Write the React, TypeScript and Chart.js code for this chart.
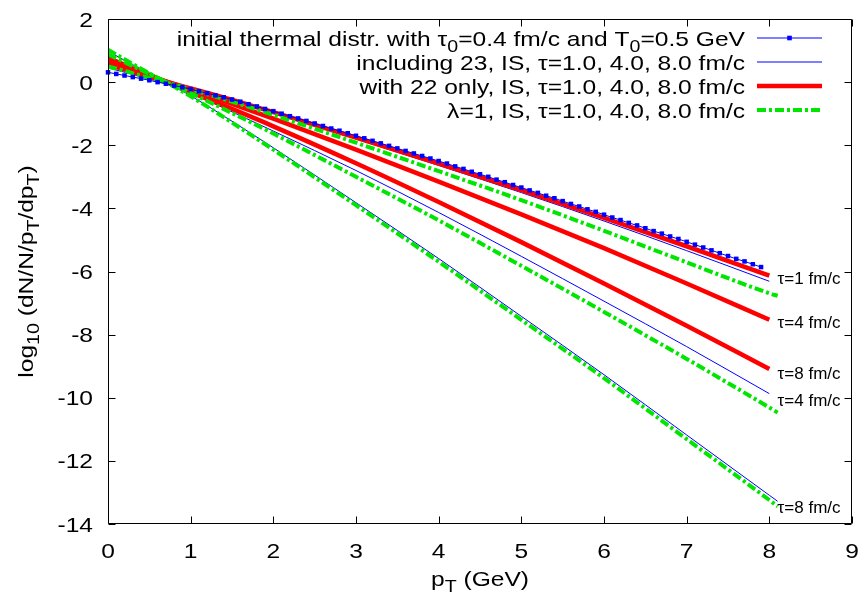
import React, { useEffect, useRef } from "react";
import { Chart, registerables } from "chart.js";
Chart.register(...registerables);

// ---------- data ----------
const PT_GRID = [0, 0.25, 0.5, 0.75, 1, 1.5, 2, 3, 4, 5, 6, 7, 8];
const PT_GRID_EXT = [0, 0.25, 0.5, 0.75, 1, 1.5, 2, 3, 4, 5, 6, 7, 8, 8.1];

const PT_THERMAL = [
  0.0, 0.1, 0.2, 0.3, 0.4, 0.5, 0.6, 0.7, 0.8, 0.9,
  1.0, 1.1, 1.2, 1.3, 1.4, 1.5, 1.6, 1.7, 1.8, 1.9,
  2.0, 2.1, 2.2, 2.3, 2.4, 2.5, 2.6, 2.7, 2.8, 2.9,
  3.0, 3.1, 3.2, 3.3, 3.4, 3.5, 3.6, 3.7, 3.8, 3.9,
  4.0, 4.1, 4.2, 4.3, 4.4, 4.5, 4.6, 4.7, 4.8, 4.9,
  5.0, 5.1, 5.2, 5.3, 5.4, 5.5, 5.6, 5.7, 5.8, 5.9,
  6.0, 6.1, 6.2, 6.3, 6.4, 6.5, 6.6, 6.7, 6.8, 6.9,
  7.0, 7.1, 7.2, 7.3, 7.4, 7.5, 7.6, 7.7, 7.8, 7.9,
];
const THERMAL = [
  0.31, 0.26, 0.21, 0.16, 0.11, 0.06, 0.0, -0.05, -0.11, -0.16,
  -0.22, -0.29, -0.35, -0.42, -0.48, -0.55, -0.62, -0.70, -0.77, -0.85,
  -0.92, -1.0, -1.08, -1.15, -1.23, -1.31, -1.39, -1.47, -1.54, -1.62,
  -1.70, -1.78, -1.86, -1.94, -2.02, -2.10, -2.18, -2.26, -2.34, -2.42,
  -2.50, -2.58, -2.67, -2.75, -2.84, -2.92, -3.0, -3.09, -3.17, -3.26,
  -3.34, -3.43, -3.51, -3.60, -3.68, -3.77, -3.86, -3.94, -4.03, -4.11,
  -4.20, -4.29, -4.37, -4.46, -4.54, -4.63, -4.72, -4.80, -4.89, -4.97,
  -5.06, -5.15, -5.24, -5.33, -5.42, -5.51, -5.60, -5.68, -5.77, -5.86,
];

const INC23_TAU1 = [0.45, 0.28, 0.1, -0.05, -0.22, -0.59, -0.98, -1.8, -2.64, -3.5, -4.4, -5.34, -6.31];
const INC23_TAU4 = [0.82, 0.53, 0.24, -0.05, -0.34, -0.94, -1.55, -2.8, -4.13, -5.52, -6.94, -8.38, -9.87];
const INC23_TAU8 = [0.98, 0.62, 0.27, -0.07, -0.43, -1.24, -2.08, -3.82, -5.59, -7.42, -9.27, -11.18, -13.09, -13.28];

const ONLY22_TAU1 = [0.55, 0.36, 0.17, -0.02, -0.2, -0.56, -0.95, -1.76, -2.58, -3.42, -4.3, -5.2, -6.13];
const ONLY22_TAU4 = [0.67, 0.44, 0.21, -0.02, -0.24, -0.69, -1.16, -2.14, -3.15, -4.19, -5.26, -6.38, -7.53];
const ONLY22_TAU8 = [0.76, 0.5, 0.23, -0.05, -0.32, -0.85, -1.4, -2.57, -3.8, -5.07, -6.38, -7.72, -9.09];

const LAMBDA1_TAU1 = [0.5, 0.32, 0.13, -0.04, -0.23, -0.62, -1.04, -1.92, -2.82, -3.74, -4.71, -5.71, -6.69, -6.77];
const LAMBDA1_TAU4 = [0.88, 0.57, 0.26, -0.05, -0.35, -0.98, -1.63, -3.0, -4.38, -5.82, -7.28, -8.77, -10.31, -10.47];
const LAMBDA1_TAU8 = [1.03, 0.65, 0.28, -0.07, -0.45, -1.28, -2.14, -3.9, -5.69, -7.53, -9.38, -11.31, -13.24, -13.44];

const LEGEND_LABELS = [
  "initial thermal distr. with τ_0=0.4 fm/c and T_0=0.5 GeV",
  "including 23, IS, τ=1.0, 4.0, 8.0 fm/c",
  "with 22 only, IS, τ=1.0, 4.0, 8.0 fm/c",
  "λ=1, IS, τ=1.0, 4.0, 8.0 fm/c",
];

const END_LABELS = ["τ=1 fm/c", "τ=4 fm/c", "τ=8 fm/c", "τ=4 fm/c", "τ=8 fm/c"];
const END_LABEL_Y = [-6.2, -7.59, -9.2, -10.06, -13.47];
const END_LABEL_X = 8.1;

const X_TITLE = "p_T (GeV)";
const Y_TITLE = "log_{10} (dN/N/p_T/dp_T)";

// ---------- styles ----------
const BLUE = "#0000ff";
const RED = "#ff0000";
const GREEN = "#00e600";
const GREEN_DASH = [9, 3, 3, 3];
const FONT = '"Liberation Sans", Arial, Helvetica, sans-serif';
const BASE = 21;
const SX = 1.17;

type Seg = { t: string; sub: boolean };
function parseRich(s: string): Seg[] {
  const segs: Seg[] = [];
  let buf = "";
  let i = 0;
  while (i < s.length) {
    if (s[i] === "_") {
      if (buf) segs.push({ t: buf, sub: false });
      buf = "";
      if (s[i + 1] === "{") {
        const j = s.indexOf("}", i + 2);
        segs.push({ t: s.slice(i + 2, j), sub: true });
        i = j + 1;
      } else {
        segs.push({ t: s[i + 1], sub: true });
        i += 2;
      }
    } else {
      buf += s[i];
      i++;
    }
  }
  if (buf) segs.push({ t: buf, sub: false });
  return segs;
}

function drawRich(
  ctx: CanvasRenderingContext2D,
  s: string,
  x: number,
  y: number,
  align: "left" | "right" | "center",
  size: number,
  sx: number,
  rot = 0
) {
  const segs = parseRich(s);
  const subSize = size * 0.8;
  const widths = segs.map((sg) => {
    ctx.font = `${sg.sub ? subSize : size}px ${FONT}`;
    return ctx.measureText(sg.t).width;
  });
  const w = widths.reduce((a, b) => a + b, 0);
  ctx.save();
  ctx.translate(x, y);
  if (rot) ctx.rotate(rot);
  ctx.scale(sx, 1);
  let cx = align === "left" ? 0 : align === "right" ? -w : -w / 2;
  ctx.textBaseline = "alphabetic";
  ctx.textAlign = "left";
  ctx.fillStyle = "#000";
  const base = size * 0.36;
  segs.forEach((sg, k) => {
    ctx.font = `${sg.sub ? subSize : size}px ${FONT}`;
    ctx.fillText(sg.t, cx, base + (sg.sub ? size * 0.3 : 0));
    cx += widths[k];
  });
  ctx.restore();
}

const overlay = {
  id: "overlay",
  afterDatasetsDraw(chart: any) {
    const { ctx, chartArea: a, scales } = chart;
    const xs = scales.x;
    const ys = scales.y;
    ctx.save();
    ctx.strokeStyle = "#000";
    ctx.lineWidth = 1;
    const L = Math.round(a.left) + 0.5;
    const R = Math.round(a.right) - 0.5;
    const T = Math.round(a.top) + 0.5;
    const B = Math.round(a.bottom) - 0.5;
    ctx.beginPath();
    ctx.rect(L, T, R - L, B - T);
    const TL = 7;
    xs.ticks.forEach((t: any) => {
      const px = Math.round(xs.getPixelForValue(t.value)) + 0.5;
      ctx.moveTo(px, B);
      ctx.lineTo(px, B - TL);
      ctx.moveTo(px, T);
      ctx.lineTo(px, T + TL);
    });
    ys.ticks.forEach((t: any) => {
      const py = Math.round(ys.getPixelForValue(t.value)) + 0.5;
      ctx.moveTo(L, py);
      ctx.lineTo(L + TL, py);
      ctx.moveTo(R, py);
      ctx.lineTo(R - TL, py);
    });
    ctx.stroke();
    ctx.restore();
  },
  afterDraw(chart: any) {
    const { ctx, chartArea: a, scales } = chart;
    const xs = scales.x;
    const ys = scales.y;
    // tick labels
    xs.ticks.forEach((t: any) => {
      drawRich(ctx, String(t.value), xs.getPixelForValue(t.value), a.bottom + 26, "center", BASE, SX);
    });
    ys.ticks.forEach((t: any) => {
      drawRich(ctx, String(t.value), a.left - 15, ys.getPixelForValue(t.value), "right", BASE, SX);
    });
    // axis titles
    drawRich(ctx, X_TITLE, (a.left + a.right) / 2, a.bottom + 54, "center", BASE, SX);
    drawRich(ctx, Y_TITLE, 25, (a.top + a.bottom) / 2, "center", BASE, SX, -Math.PI / 2);
    // end labels
    END_LABELS.forEach((lab, i) => {
      drawRich(ctx, lab, xs.getPixelForValue(END_LABEL_X), ys.getPixelForValue(END_LABEL_Y[i]), "left", 17, 1.0);
    });
    // legend
    const textRight = a.right - 107;
    const lx0 = a.right - 95;
    const lx1 = a.right - 30;
    LEGEND_LABELS.forEach((lab, i) => {
      const yy = a.top + 19 + i * 24;
      drawRich(ctx, lab, textRight, yy, "right", BASE, SX);
      ctx.save();
      ctx.beginPath();
      ctx.moveTo(lx0, yy);
      ctx.lineTo(lx1, yy);
      if (i === 0) {
        ctx.strokeStyle = BLUE;
        ctx.lineWidth = 1;
        ctx.stroke();
        ctx.fillStyle = BLUE;
        ctx.fillRect((lx0 + lx1) / 2 - 2.3, yy - 2.3, 4.6, 4.6);
      } else if (i === 1) {
        ctx.strokeStyle = BLUE;
        ctx.lineWidth = 1;
        ctx.stroke();
      } else if (i === 2) {
        ctx.strokeStyle = RED;
        ctx.lineWidth = 4.5;
        ctx.stroke();
      } else {
        ctx.strokeStyle = GREEN;
        ctx.lineWidth = 4;
        ctx.setLineDash(GREEN_DASH);
        ctx.stroke();
      }
      ctx.restore();
    });
  },
};

function pts(xs: number[], ys: number[]) {
  return ys.map((y, i) => ({ x: xs[i], y }));
}

function lineDs(data: any, color: string, width: number, order: number, dash: number[] = []) {
  return {
    data,
    borderColor: color,
    backgroundColor: color,
    borderWidth: width,
    borderDash: dash,
    pointRadius: 0,
    fill: false,
    cubicInterpolationMode: "monotone" as const,
    order,
  };
}

export default function App() {
  const ref = useRef<HTMLCanvasElement>(null);
  useEffect(() => {
    const datasets: any[] = [
      {
        data: pts(PT_THERMAL, THERMAL),
        borderColor: BLUE,
        backgroundColor: BLUE,
        borderWidth: 1,
        pointStyle: "rect",
        pointRadius: 3.2,
        pointBorderWidth: 0,
        pointBackgroundColor: BLUE,
        fill: false,
        order: 0,
        clip: false,
      },
      lineDs(pts(PT_GRID_EXT, LAMBDA1_TAU1), GREEN, 4, 1, GREEN_DASH),
      lineDs(pts(PT_GRID_EXT, LAMBDA1_TAU4), GREEN, 4, 1, GREEN_DASH),
      lineDs(pts(PT_GRID_EXT, LAMBDA1_TAU8), GREEN, 4, 1, GREEN_DASH),
      lineDs(pts(PT_GRID, ONLY22_TAU1), RED, 4.5, 2),
      lineDs(pts(PT_GRID, ONLY22_TAU4), RED, 4.5, 2),
      lineDs(pts(PT_GRID, ONLY22_TAU8), RED, 4.5, 2),
      lineDs(pts(PT_GRID, INC23_TAU1), BLUE, 1, 3),
      lineDs(pts(PT_GRID, INC23_TAU4), BLUE, 1, 3),
      lineDs(pts(PT_GRID_EXT, INC23_TAU8), BLUE, 1, 3),
    ];
    const chart = new Chart(ref.current!, {
      type: "line",
      data: { datasets },
      options: {
        responsive: false,
        animation: false,
        devicePixelRatio: 1,
        layout: { padding: { left: 0, right: 9, top: 19, bottom: 0 } },
        plugins: { legend: { display: false }, tooltip: { enabled: false } },
        scales: {
          x: {
            type: "linear",
            min: 0,
            max: 9,
            ticks: { display: false, stepSize: 1 },
            grid: { display: false },
            border: { display: false },
            afterFit: (s: any) => {
              s.height = 73;
            },
          },
          y: {
            type: "linear",
            min: -14,
            max: 2,
            ticks: { display: false, stepSize: 2 },
            grid: { display: false },
            border: { display: false },
            afterFit: (s: any) => {
              s.width = 108;
            },
          },
        },
      } as any,
      plugins: [overlay],
    });
    return () => chart.destroy();
  }, []);
  return (
    <div style={{ position: "absolute", left: 0, top: 0, width: 861, height: 597, background: "#fff" }}>
      <canvas ref={ref} width={861} height={597} style={{ display: "block", width: 861, height: 597 }} />
    </div>
  );
}
